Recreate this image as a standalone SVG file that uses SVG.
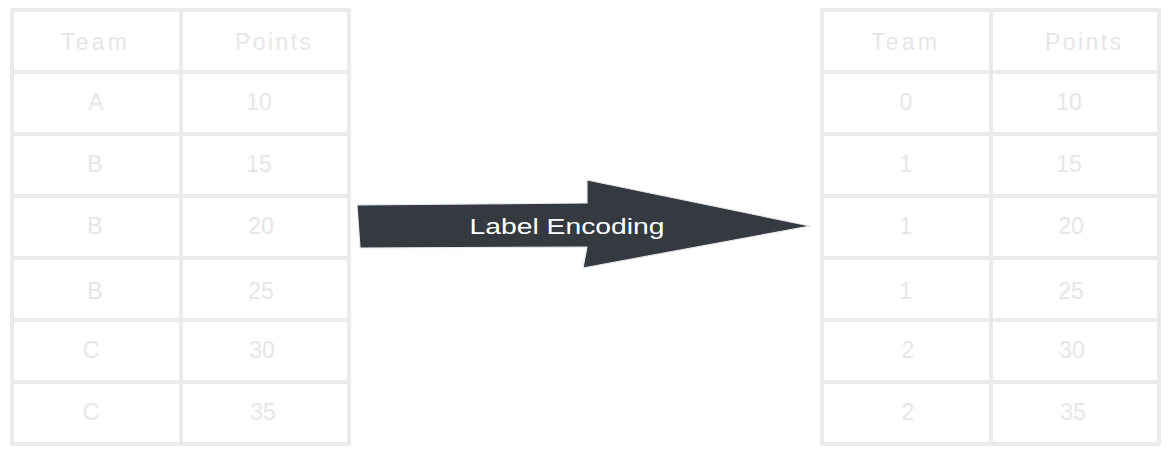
<svg xmlns="http://www.w3.org/2000/svg" width="1168" height="454" viewBox="0 0 1168 454">
<style>
.cell{fill:none;stroke:#ebebeb;stroke-width:4;stroke-linejoin:round}
.t{font-family:"Liberation Sans","DejaVu Sans",sans-serif;font-size:23px;fill:#e6e6e6;text-anchor:middle}
.lbl{font-family:"Liberation Sans","DejaVu Sans",sans-serif;font-size:22px;fill:#ffffff;text-anchor:middle}
</style>
<rect width="1168" height="454" fill="#ffffff"/>
<g id="left-table">
<g id="l-h1"><rect class="cell" x="12" y="10" width="169" height="62"/><text class="t" x="94" y="50" textLength="66" lengthAdjust="spacing">Team</text></g>
<g id="l-h2"><rect class="cell" x="181" y="10" width="168" height="62"/><text class="t" x="273" y="50" textLength="76" lengthAdjust="spacing">Points</text></g>
<g id="l-r1c1"><rect class="cell" x="12" y="72" width="169" height="62"/><text class="t" x="96" y="110">A</text></g>
<g id="l-r1c2"><rect class="cell" x="181" y="72" width="168" height="62"/><text class="t" x="259" y="110">10</text></g>
<g id="l-r2c1"><rect class="cell" x="12" y="134" width="169" height="62"/><text class="t" x="95" y="172">B</text></g>
<g id="l-r2c2"><rect class="cell" x="181" y="134" width="168" height="62"/><text class="t" x="259" y="172">15</text></g>
<g id="l-r3c1"><rect class="cell" x="12" y="196" width="169" height="62"/><text class="t" x="95" y="234">B</text></g>
<g id="l-r3c2"><rect class="cell" x="181" y="196" width="168" height="62"/><text class="t" x="261" y="234">20</text></g>
<g id="l-r4c1"><rect class="cell" x="12" y="258" width="169" height="62"/><text class="t" x="95" y="299">B</text></g>
<g id="l-r4c2"><rect class="cell" x="181" y="258" width="168" height="62"/><text class="t" x="261" y="299">25</text></g>
<g id="l-r5c1"><rect class="cell" x="12" y="320" width="169" height="62"/><text class="t" x="91" y="358">C</text></g>
<g id="l-r5c2"><rect class="cell" x="181" y="320" width="168" height="62"/><text class="t" x="262" y="358">30</text></g>
<g id="l-r6c1"><rect class="cell" x="12" y="382" width="169" height="62"/><text class="t" x="91" y="420">C</text></g>
<g id="l-r6c2"><rect class="cell" x="181" y="382" width="168" height="62"/><text class="t" x="263" y="420">35</text></g>
</g>
<g id="right-table">
<g id="r-h1"><rect class="cell" x="822" y="10" width="169" height="62"/><text class="t" x="904" y="50" textLength="66" lengthAdjust="spacing">Team</text></g>
<g id="r-h2"><rect class="cell" x="991" y="10" width="168" height="62"/><text class="t" x="1083" y="50" textLength="76" lengthAdjust="spacing">Points</text></g>
<g id="r-r1c1"><rect class="cell" x="822" y="72" width="169" height="62"/><text class="t" x="906" y="110">0</text></g>
<g id="r-r1c2"><rect class="cell" x="991" y="72" width="168" height="62"/><text class="t" x="1069" y="110">10</text></g>
<g id="r-r2c1"><rect class="cell" x="822" y="134" width="169" height="62"/><text class="t" x="906" y="172">1</text></g>
<g id="r-r2c2"><rect class="cell" x="991" y="134" width="168" height="62"/><text class="t" x="1069" y="172">15</text></g>
<g id="r-r3c1"><rect class="cell" x="822" y="196" width="169" height="62"/><text class="t" x="906" y="234">1</text></g>
<g id="r-r3c2"><rect class="cell" x="991" y="196" width="168" height="62"/><text class="t" x="1071" y="234">20</text></g>
<g id="r-r4c1"><rect class="cell" x="822" y="258" width="169" height="62"/><text class="t" x="906" y="299">1</text></g>
<g id="r-r4c2"><rect class="cell" x="991" y="258" width="168" height="62"/><text class="t" x="1071" y="299">25</text></g>
<g id="r-r5c1"><rect class="cell" x="822" y="320" width="169" height="62"/><text class="t" x="908" y="358">2</text></g>
<g id="r-r5c2"><rect class="cell" x="991" y="320" width="168" height="62"/><text class="t" x="1072" y="358">30</text></g>
<g id="r-r6c1"><rect class="cell" x="822" y="382" width="169" height="62"/><text class="t" x="908" y="420">2</text></g>
<g id="r-r6c2"><rect class="cell" x="991" y="382" width="168" height="62"/><text class="t" x="1073" y="420">35</text></g>
</g>
<g id="connectors">
<g id="arrow">
<path d="M357 205 L587 203 L587 180 L810 226 L583 268 L587 247 L360 248 Z" fill="#343a40" stroke="#e8e8e8" stroke-width="1.2" stroke-linejoin="round"/>
<text class="lbl" x="567" y="234" textLength="195" lengthAdjust="spacingAndGlyphs">Label Encoding</text>
</g>
</g>
</svg>
